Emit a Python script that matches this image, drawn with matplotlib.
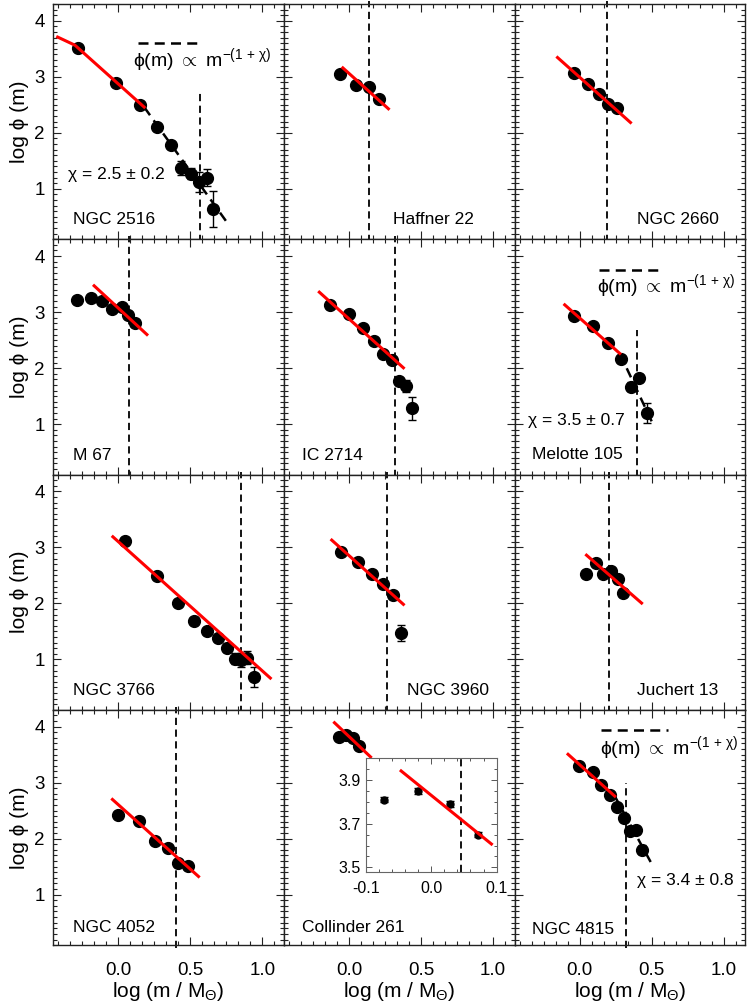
import numpy as np
import matplotlib.pyplot as plt
from matplotlib.ticker import MultipleLocator, AutoMinorLocator

plt.rcParams['font.family'] = ['Liberation Sans', 'DejaVu Sans']
plt.rcParams['mathtext.fontset'] = 'custom'
plt.rcParams['mathtext.rm'] = 'Liberation Sans'
plt.rcParams['mathtext.it'] = 'Liberation Sans'
plt.rcParams['mathtext.sf'] = 'Liberation Sans'
plt.rcParams['axes.unicode_minus'] = False

# cluster names, one panel each
names = ["NGC 2516", "Haffner 22", "NGC 2660", "M 67", "IC 2714", "Melotte 105",
         "NGC 3766", "NGC 3960", "Juchert 13", "NGC 4052", "Collinder 261", "NGC 4815"]

# log(m/Msun) of the bins
logm = [
    [-0.281, -0.015, 0.152, 0.268, 0.365, 0.437, 0.504, 0.562, 0.615, 0.657],
    [-0.061, 0.05, 0.14, 0.212],
    [-0.038, 0.059, 0.135, 0.198, 0.26],
    [-0.283, -0.19, -0.11, -0.04, 0.025, 0.071, 0.117],
    [-0.131, -0.001, 0.097, 0.175, 0.24, 0.30, 0.349, 0.395, 0.437],
    [-0.04, 0.094, 0.198, 0.286, 0.356, 0.413, 0.469],
    [0.048, 0.268, 0.418, 0.527, 0.615, 0.689, 0.754, 0.807, 0.851, 0.893, 0.939],
    [-0.054, 0.066, 0.163, 0.24, 0.305, 0.363],
    [0.048, 0.113, 0.163, 0.221, 0.267, 0.302],
    [-0.003, 0.147, 0.256, 0.342, 0.418, 0.483],
    [-0.072, -0.02, 0.029, 0.071],
    [-0.003, 0.09, 0.147, 0.21, 0.26, 0.309, 0.349, 0.39, 0.43],
]
# log phi(m)
logphi = [
    [3.51, 2.89, 2.50, 2.11, 1.79, 1.37, 1.27, 1.12, 1.20, 0.64],
    [3.05, 2.85, 2.81, 2.60],
    [3.06, 2.87, 2.70, 2.51, 2.44],
    [3.21, 3.25, 3.19, 3.06, 3.10, 2.95, 2.80],
    [3.13, 2.96, 2.71, 2.49, 2.26, 2.14, 1.77, 1.68, 1.28],
    [2.93, 2.75, 2.44, 2.17, 1.67, 1.83, 1.20],
    [3.12, 2.49, 2.01, 1.68, 1.50, 1.38, 1.21, 1.01, 0.99, 1.03, 0.68],
    [2.92, 2.74, 2.52, 2.34, 2.15, 1.47],
    [2.52, 2.73, 2.53, 2.57, 2.44, 2.19],
    [2.43, 2.32, 1.95, 1.83, 1.56, 1.52],
    [3.81, 3.85, 3.79, 3.65],
    [3.30, 3.19, 2.96, 2.78, 2.57, 2.37, 2.13, 2.15, 1.80],
]
# errors
errs = [
    [0.03, 0.03, 0.03, 0.03, 0.04, 0.13, 0.10, 0.18, 0.15, 0.32],
    [0.03, 0.03, 0.03, 0.03],
    [0.03, 0.03, 0.03, 0.03, 0.03],
    [0.03, 0.03, 0.03, 0.03, 0.03, 0.03, 0.03],
    [0.03, 0.03, 0.03, 0.03, 0.03, 0.03, 0.05, 0.10, 0.20],
    [0.03, 0.03, 0.03, 0.04, 0.08, 0.07, 0.18],
    [0.03, 0.03, 0.03, 0.03, 0.03, 0.06, 0.08, 0.10, 0.12, 0.12, 0.18],
    [0.03, 0.03, 0.03, 0.03, 0.03, 0.14],
    [0.03, 0.03, 0.03, 0.03, 0.03, 0.03],
    [0.03, 0.03, 0.03, 0.03, 0.06, 0.06],
    [0.012, 0.012, 0.012, 0.012],
    [0.03, 0.03, 0.03, 0.03, 0.03, 0.03, 0.05, 0.06, 0.08],
]
# red low-mass power-law fits
fit_x = [[-0.42, -0.30, 0.18], [-0.042, 0.274], [-0.153, 0.353], [-0.167, 0.199],
         [-0.205, 0.378], [-0.103, 0.279], [-0.037, 1.055], [-0.119, 0.378],
         [0.048, 0.43], [-0.04, 0.557], [-0.1, 0.15], [-0.08, 0.244]]
fit_y = [[3.71, 3.565, 2.46], [3.16, 2.43], [3.345, 2.185], [3.47, 2.60],
         [3.356, 2.006], [3.13, 2.262], [3.189, 0.667], [3.13, 1.983],
         [2.861, 2.006], [2.70, 1.325], [4.07, 3.46], [3.506, 2.759]]
# dashed high-mass fits (only three clusters)
hi_panels = [0, 5, 11]
hi_x = [[0.18, 0.755], [0.279, 0.50], [0.244, 0.51]]
hi_y = [[2.46, 0.40], [2.26, 1.05], [2.759, 1.504]]
chi_text = ["\u03c7 = 2.5 \u00b1 0.2", "\u03c7 = 3.5 \u00b1 0.7", "\u03c7 = 3.4 \u00b1 0.8"]
# mass cut (vertical dashed), None = none drawn in main panel
cuts = [0.569, 0.14, 0.191, 0.076, 0.322, 0.395, 0.851, 0.263, 0.205, 0.40, None, 0.325]
cut_top = [2.73, None, None, None, None, 2.68, None, None, None, None, None, 3.0]

# Collinder 261 zoom
ins_fit_x = [-0.046, 0.092]
ins_fit_y = [3.942, 3.607]
ins_cut = 0.046

# placement of text in data coords
label_pos = [(-0.315, 0.46), (0.303, 0.46), (0.399, 0.46), (-0.315, 0.44), (-0.323, 0.44),
             (-0.327, 0.45), (-0.315, 0.44), (0.406, 0.44), (0.395, 0.44), (-0.315, 0.41),
             (-0.323, 0.41), (-0.327, 0.37)]
leg_line = [([0.14, 0.557], 3.6), ([0.136, 0.541], 3.744), ([0.152, 0.615], 3.94)]
leg_text = [(0.105, 3.3), (0.119, 3.458), (0.14, 3.625)]
chi_pos = [(-0.346, 1.25), (-0.357, 1.07), (0.395, 1.25)]

fig = plt.figure(figsize=(7.48, 10.05), dpi=100)
left0, w, top, h = 0.0713, 0.3084, 0.996, 0.2341
dash = (4, 2.5)
frame = '#222222'

for i in range(12):
    r, c = divmod(i, 3)
    ax = fig.add_axes([left0 + c * w, top - (r + 1) * h, w, h])
    ax.set_xlim(-0.45, 1.15)
    ax.set_ylim(0.1, 4.3)
    ax.xaxis.set_major_locator(MultipleLocator(0.5))
    ax.xaxis.set_minor_locator(AutoMinorLocator(6))
    ax.yaxis.set_major_locator(MultipleLocator(1))
    ax.yaxis.set_minor_locator(MultipleLocator(0.1))
    ax.tick_params(which='both', direction='in', top=True, right=True,
                   labelsize=13.5, color=frame, width=0.8)
    ax.tick_params(which='major', length=6)
    ax.tick_params(which='minor', length=3)
    ax.tick_params(axis='x', pad=12)
    ax.tick_params(axis='y', pad=6)
    for s in ax.spines.values():
        s.set_color(frame)
        s.set_linewidth(1.0)
    if c != 0:
        ax.tick_params(labelleft=False)
    else:
        ax.set_ylabel('log \u03d5 (m)', fontsize=15, labelpad=4)
    if r != 3:
        ax.tick_params(labelbottom=False)
    else:
        ax.set_xlabel(r'log (m / M$_\Theta$)', fontsize=15, labelpad=1)

    ax.errorbar(logm[i], logphi[i], yerr=errs[i], fmt='o', color='k', ms=8.5,
                capsize=3, elinewidth=1, capthick=1, zorder=3)
    ax.plot(fit_x[i], fit_y[i], color='red', lw=2.2, zorder=4)

    if cuts[i] is not None:
        yt = cut_top[i] if cut_top[i] is not None else 4.35
        ax.plot([cuts[i], cuts[i]], [0.05, yt], color='k', ls='--', dashes=dash,
                lw=1.3, clip_on=False, zorder=2)

    if i in hi_panels:
        k = hi_panels.index(i)
        ax.plot(hi_x[k], hi_y[k], color='k', ls='--', dashes=dash, lw=1.8, zorder=2)
        lx, ly = leg_line[k]
        ax.plot(lx, [ly, ly], color='k', ls='--', dashes=dash, lw=1.8)
        ax.text(leg_text[k][0], leg_text[k][1],
                '\u03d5(m) $\\propto$ m$^{-(1\\,+\\,\\chi)}$', fontsize=14, va='center')
        ax.text(chi_pos[k][0], chi_pos[k][1], chi_text[k], fontsize=12.5, va='center')

    ax.text(label_pos[i][0], label_pos[i][1], names[i], fontsize=12.5, va='center')

# inset for Collinder 261
axi = fig.add_axes([0.489, 0.1326, 0.175, 0.1129])
axi.set_xlim(-0.1, 0.1)
axi.set_ylim(3.48, 4.0)
axi.set_xticks([-0.1, 0.0, 0.1])
axi.set_xticklabels(['-0.1', '0.0', '0.1'])
axi.set_yticks([3.5, 3.7, 3.9])
axi.set_yticklabels(['3.5', '3.7', '3.9'])
axi.xaxis.set_minor_locator(AutoMinorLocator(5))
axi.yaxis.set_minor_locator(AutoMinorLocator(4))
axi.tick_params(which='both', direction='in', top=True, right=True, labelsize=11.5,
                color='#555555', width=0.7)
axi.tick_params(which='major', length=4)
axi.tick_params(which='minor', length=2)
axi.tick_params(axis='x', pad=7)
for s in axi.spines.values():
    s.set_color('#666666')
    s.set_linewidth(0.8)
axi.errorbar(logm[10], logphi[10], yerr=errs[10], fmt='o', color='k', ms=5,
             capsize=3, elinewidth=1, capthick=1, zorder=3)
axi.plot(ins_fit_x, ins_fit_y, color='red', lw=2.2, zorder=4)
axi.axvline(ins_cut, color='k', ls='--', dashes=dash, lw=1.3)

fig.savefig('out.png', dpi=100)
